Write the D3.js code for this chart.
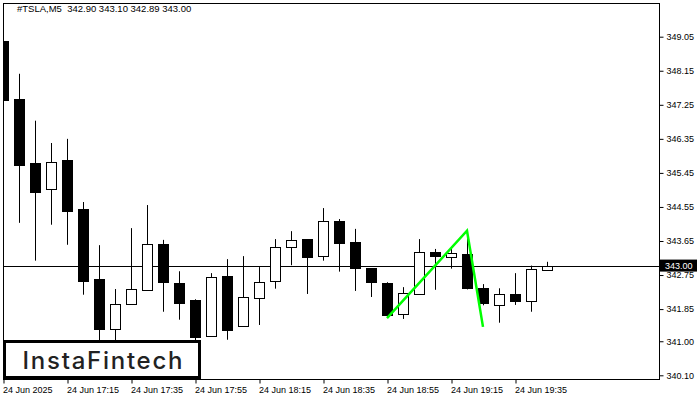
<!DOCTYPE html>
<html><head><meta charset="utf-8">
<script src="https://cdn.jsdelivr.net/npm/d3@7"></script>
<style>html,body{margin:0;padding:0;background:#fff;}svg{display:block;}</style>
</head><body>
<svg id="c" width="700" height="400"></svg>
<script>
const symbol = "#TSLA,M5";
const header = "342.90 343.10 342.89 343.00";
const startTime = "2025-06-24T16:55:00";
const opens  = [348.94,347.41,345.71,345.03,345.79,344.50,342.64,341.32,341.99,342.35,343.57,342.54,342.09,341.13,342.72,341.40,342.14,342.59,343.49,343.70,343.25,344.18,343.62,342.93,342.54,341.71,342.25,343.36,343.22,343.30,342.40,341.95,342.25,342.05,342.90];
const highs  = [349.45,348.07,346.83,346.24,346.35,344.68,343.54,342.38,343.99,344.60,343.68,342.85,342.11,342.80,343.17,343.25,342.96,343.70,343.91,343.70,344.52,344.23,343.97,342.93,342.56,342.43,343.70,343.44,343.49,343.73,342.51,342.40,342.80,343.00,343.10];
const lows   = [346.46,344.13,343.13,344.08,343.55,342.23,340.97,340.97,341.98,342.35,341.78,341.57,340.95,341.13,341.04,341.40,341.43,342.39,343.01,342.25,343.13,342.84,342.33,342.17,341.64,341.59,342.25,342.36,342.92,342.37,341.95,341.49,341.96,341.78,342.89];
const closes = [347.38,345.67,344.95,345.74,344.45,342.60,341.32,341.98,342.38,343.57,342.57,342.02,341.12,342.70,341.30,342.17,342.56,343.49,343.68,343.23,344.18,343.60,342.94,342.55,341.70,342.27,343.36,343.25,343.33,342.40,342.00,342.25,342.07,342.90,343.00];
const yTickLabels = ["349.05","348.15","347.25","346.35","345.45","344.55","343.65","342.75","341.85","341.00","340.10"];
const xTickIdx = [0,4,8,12,16,20,24,28,32];
const xTickLabels = ["24 Jun 2025","24 Jun 17:15","24 Jun 17:35","24 Jun 17:55","24 Jun 18:15","24 Jun 18:35","24 Jun 18:55","24 Jun 19:15","24 Jun 19:35"];
const bidPrice = 343.00;
const patternIdx = [24,29,30];
const patternPrice = [341.61,343.92,341.38];
const logoText = "InstaFintech";

const svg = d3.select("#c");
const L = 3, R = 659, T = 3, B = 379;
const t0 = new Date(startTime);
const times = opens.map((d,i)=> new Date(t0.getTime() + i*5*60000));
const x = d3.scaleTime().domain([times[0], times[times.length-1]]).range([3, 3+16*(times.length-1)]);
const y = d3.scaleLinear().domain([340.10, 349.05]).range([375.3, 36.7]);
const bodyW = 11;

svg.append("defs").append("clipPath").attr("id","pc")
  .append("rect").attr("x",L).attr("y",T).attr("width",R-L).attr("height",B-T);

const plot = svg.append("g").attr("clip-path","url(#pc)");

// bid line
plot.append("line").attr("x1",L).attr("x2",R).attr("y1",Math.round(y(bidPrice))+0.5).attr("y2",Math.round(y(bidPrice))+0.5)
  .attr("stroke","#000").attr("stroke-width",1);

const data = opens.map((o,i)=>({t:times[i],o,h:highs[i],l:lows[i],c:closes[i]}));
const cg = plot.selectAll("g.c").data(data).join("g").attr("class","c");
cg.append("line")
  .attr("x1",d=>Math.round(x(d.t))+0.5).attr("x2",d=>Math.round(x(d.t))+0.5)
  .attr("y1",d=>y(d.h)).attr("y2",d=>y(d.l)).attr("stroke","#000").attr("stroke-width",1);
cg.append("rect")
  .attr("x",d=>Math.round(x(d.t))-5+0.5)
  .attr("width",bodyW-1)
  .attr("y",d=>Math.round(y(Math.max(d.o,d.c)))+0.5)
  .attr("height",d=>Math.max(1,Math.round(Math.abs(y(d.o)-y(d.c)))))
  .attr("fill",d=>d.c<d.o?"#000":"#fff")
  .attr("stroke","#000").attr("stroke-width",1);

// pattern line
const pts = patternIdx.map((k,i)=>[x(times[k]), y(patternPrice[i])]);
plot.append("path").attr("d", d3.line()(pts)).attr("fill","none")
  .attr("stroke","#00ff00").attr("stroke-width",2.5).attr("stroke-linejoin","miter");

// frame
svg.append("rect").attr("x",L+0.5).attr("y",T+0.5).attr("width",R-L).attr("height",B-T)
  .attr("fill","none").attr("stroke","#000").attr("stroke-width",1);

// y axis
const yAxis = d3.axisRight(y).tickValues(yTickLabels.map(Number)).tickFormat((d,i)=>yTickLabels[i]).tickSize(4).tickPadding(3);
const ya = svg.append("g").attr("transform",`translate(${R+0.5},0)`).call(yAxis);
ya.select(".domain").remove();
ya.selectAll("line").attr("stroke","#000");
ya.selectAll("text").attr("font-family","'Liberation Sans', Arial, sans-serif").attr("font-size","9px").attr("fill","#000");

// x axis
const xAxis = d3.axisBottom(x).tickValues(xTickIdx.map(k=>times[k])).tickFormat((d,i)=>xTickLabels[i]).tickSize(4).tickPadding(3);
const xa = svg.append("g").attr("transform",`translate(0.5,${B+0.5})`).call(xAxis);
xa.select(".domain").remove();
xa.selectAll("line").attr("stroke","#000");
xa.selectAll("text").attr("text-anchor","start").attr("dx","-1")
  .attr("font-family","'Liberation Sans', Arial, sans-serif").attr("font-size","9px").attr("fill","#000");

// bid label
const by = y(bidPrice);
svg.append("rect").attr("x",R+1).attr("y",by-6).attr("width",37).attr("height",12).attr("fill","#000");
svg.append("text").attr("x",R+6).attr("y",by+3.5).text(bidPrice.toFixed(2))
  .attr("font-family","'Liberation Sans', Arial, sans-serif").attr("font-size","9px").attr("fill","#fff");

// header
svg.append("text").attr("x",17).attr("y",11.5).text(symbol+"  "+header).attr("xml:space","preserve")
  .style("white-space","pre")
  .attr("font-family","'Liberation Sans', Arial, sans-serif").attr("font-size","9.5px").attr("fill","#000");

// logo
svg.append("rect").attr("x",4.5).attr("y",341.5).attr("width",195).attr("height",36)
  .attr("fill","#fff").attr("stroke","#000").attr("stroke-width",3);
svg.append("text").attr("x",22.5).attr("y",368.5).text(logoText)
  .attr("font-family","Inter, 'Open Sans', sans-serif").attr("font-weight",500).attr("font-size","24px")
  .attr("fill","#222").attr("textLength",160).attr("lengthAdjust","spacing");
</script>
</body></html>
